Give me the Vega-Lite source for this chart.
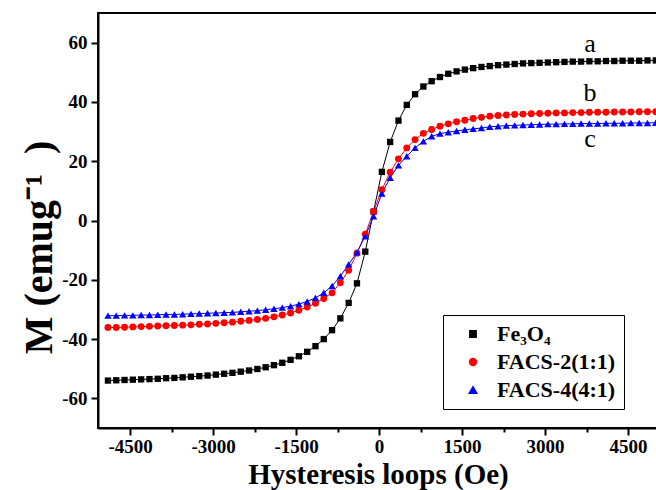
{
  "$schema": "https://vega.github.io/schema/vega-lite/v6.json",
  "width": 560,
  "height": 415,
  "autosize": "none",
  "padding": {"left": 98, "top": 13, "right": 0, "bottom": 62},
  "background": "white",
  "config": {"view": {"stroke": "black", "strokeWidth": 2}, "font": "Liberation Serif"},
  "datasets": {
    "curves": [
      {"s":"Fe₃O₄","H":-4900,"M":-54.0},{"s":"Fe₃O₄","H":-4750,"M":-53.9},{"s":"Fe₃O₄","H":-4600,"M":-53.8},{"s":"Fe₃O₄","H":-4450,"M":-53.7},{"s":"Fe₃O₄","H":-4300,"M":-53.6},{"s":"Fe₃O₄","H":-4150,"M":-53.5},{"s":"Fe₃O₄","H":-4000,"M":-53.4},{"s":"Fe₃O₄","H":-3850,"M":-53.2},{"s":"Fe₃O₄","H":-3700,"M":-53.1},{"s":"Fe₃O₄","H":-3550,"M":-52.9},{"s":"Fe₃O₄","H":-3400,"M":-52.7},{"s":"Fe₃O₄","H":-3250,"M":-52.5},{"s":"Fe₃O₄","H":-3100,"M":-52.3},{"s":"Fe₃O₄","H":-2950,"M":-52.0},{"s":"Fe₃O₄","H":-2800,"M":-51.7},{"s":"Fe₃O₄","H":-2650,"M":-51.4},{"s":"Fe₃O₄","H":-2500,"M":-51.0},{"s":"Fe₃O₄","H":-2350,"M":-50.6},{"s":"Fe₃O₄","H":-2200,"M":-50.1},{"s":"Fe₃O₄","H":-2050,"M":-49.5},{"s":"Fe₃O₄","H":-1900,"M":-48.8},{"s":"Fe₃O₄","H":-1750,"M":-48.0},{"s":"Fe₃O₄","H":-1600,"M":-47.0},{"s":"Fe₃O₄","H":-1450,"M":-45.8},{"s":"Fe₃O₄","H":-1300,"M":-44.3},{"s":"Fe₃O₄","H":-1150,"M":-42.4},{"s":"Fe₃O₄","H":-1000,"M":-40.0},{"s":"Fe₃O₄","H":-850,"M":-37.0},{"s":"Fe₃O₄","H":-700,"M":-33.0},{"s":"Fe₃O₄","H":-550,"M":-27.8},{"s":"Fe₃O₄","H":-400,"M":-21.2},{"s":"Fe₃O₄","H":-250,"M":-10.5},{"s":"Fe₃O₄","H":-100,"M":3.0},{"s":"Fe₃O₄","H":50,"M":16.4},{"s":"Fe₃O₄","H":200,"M":26.5},{"s":"Fe₃O₄","H":350,"M":33.7},{"s":"Fe₃O₄","H":500,"M":39.0},{"s":"Fe₃O₄","H":650,"M":42.6},{"s":"Fe₃O₄","H":800,"M":45.2},{"s":"Fe₃O₄","H":950,"M":47.0},{"s":"Fe₃O₄","H":1100,"M":48.4},{"s":"Fe₃O₄","H":1250,"M":49.5},{"s":"Fe₃O₄","H":1400,"M":50.3},{"s":"Fe₃O₄","H":1550,"M":50.9},{"s":"Fe₃O₄","H":1700,"M":51.4},{"s":"Fe₃O₄","H":1850,"M":51.8},{"s":"Fe₃O₄","H":2000,"M":52.1},{"s":"Fe₃O₄","H":2150,"M":52.4},{"s":"Fe₃O₄","H":2300,"M":52.6},{"s":"Fe₃O₄","H":2450,"M":52.8},{"s":"Fe₃O₄","H":2600,"M":53.0},{"s":"Fe₃O₄","H":2750,"M":53.1},{"s":"Fe₃O₄","H":2900,"M":53.2},{"s":"Fe₃O₄","H":3050,"M":53.3},{"s":"Fe₃O₄","H":3200,"M":53.4},{"s":"Fe₃O₄","H":3350,"M":53.5},{"s":"Fe₃O₄","H":3500,"M":53.6},{"s":"Fe₃O₄","H":3650,"M":53.6},{"s":"Fe₃O₄","H":3800,"M":53.7},{"s":"Fe₃O₄","H":3950,"M":53.7},{"s":"Fe₃O₄","H":4100,"M":53.8},{"s":"Fe₃O₄","H":4250,"M":53.8},{"s":"Fe₃O₄","H":4400,"M":53.9},{"s":"Fe₃O₄","H":4550,"M":53.9},{"s":"Fe₃O₄","H":4700,"M":53.9},{"s":"Fe₃O₄","H":4850,"M":54.0},{"s":"Fe₃O₄","H":5000,"M":54.0},
      {"s":"FACS-2(1:1)","H":-4900,"M":-36.1},{"s":"FACS-2(1:1)","H":-4750,"M":-36.1},{"s":"FACS-2(1:1)","H":-4600,"M":-36.0},{"s":"FACS-2(1:1)","H":-4450,"M":-35.9},{"s":"FACS-2(1:1)","H":-4300,"M":-35.8},{"s":"FACS-2(1:1)","H":-4150,"M":-35.7},{"s":"FACS-2(1:1)","H":-4000,"M":-35.6},{"s":"FACS-2(1:1)","H":-3850,"M":-35.5},{"s":"FACS-2(1:1)","H":-3700,"M":-35.4},{"s":"FACS-2(1:1)","H":-3550,"M":-35.3},{"s":"FACS-2(1:1)","H":-3400,"M":-35.2},{"s":"FACS-2(1:1)","H":-3250,"M":-35.0},{"s":"FACS-2(1:1)","H":-3100,"M":-34.9},{"s":"FACS-2(1:1)","H":-2950,"M":-34.7},{"s":"FACS-2(1:1)","H":-2800,"M":-34.5},{"s":"FACS-2(1:1)","H":-2650,"M":-34.3},{"s":"FACS-2(1:1)","H":-2500,"M":-34.0},{"s":"FACS-2(1:1)","H":-2350,"M":-33.7},{"s":"FACS-2(1:1)","H":-2200,"M":-33.4},{"s":"FACS-2(1:1)","H":-2050,"M":-33.0},{"s":"FACS-2(1:1)","H":-1900,"M":-32.5},{"s":"FACS-2(1:1)","H":-1750,"M":-31.9},{"s":"FACS-2(1:1)","H":-1600,"M":-31.2},{"s":"FACS-2(1:1)","H":-1450,"M":-30.3},{"s":"FACS-2(1:1)","H":-1300,"M":-29.2},{"s":"FACS-2(1:1)","H":-1150,"M":-27.9},{"s":"FACS-2(1:1)","H":-1000,"M":-26.3},{"s":"FACS-2(1:1)","H":-850,"M":-24.4},{"s":"FACS-2(1:1)","H":-700,"M":-21.0},{"s":"FACS-2(1:1)","H":-550,"M":-16.8},{"s":"FACS-2(1:1)","H":-400,"M":-11.0},{"s":"FACS-2(1:1)","H":-250,"M":-4.6},{"s":"FACS-2(1:1)","H":-100,"M":3.0},{"s":"FACS-2(1:1)","H":50,"M":10.4},{"s":"FACS-2(1:1)","H":200,"M":16.3},{"s":"FACS-2(1:1)","H":350,"M":20.8},{"s":"FACS-2(1:1)","H":500,"M":24.5},{"s":"FACS-2(1:1)","H":650,"M":27.3},{"s":"FACS-2(1:1)","H":800,"M":29.4},{"s":"FACS-2(1:1)","H":950,"M":30.7},{"s":"FACS-2(1:1)","H":1100,"M":31.8},{"s":"FACS-2(1:1)","H":1250,"M":32.6},{"s":"FACS-2(1:1)","H":1400,"M":33.3},{"s":"FACS-2(1:1)","H":1550,"M":33.8},{"s":"FACS-2(1:1)","H":1700,"M":34.4},{"s":"FACS-2(1:1)","H":1850,"M":34.8},{"s":"FACS-2(1:1)","H":2000,"M":35.2},{"s":"FACS-2(1:1)","H":2150,"M":35.4},{"s":"FACS-2(1:1)","H":2300,"M":35.6},{"s":"FACS-2(1:1)","H":2450,"M":35.8},{"s":"FACS-2(1:1)","H":2600,"M":35.9},{"s":"FACS-2(1:1)","H":2750,"M":36.0},{"s":"FACS-2(1:1)","H":2900,"M":36.1},{"s":"FACS-2(1:1)","H":3050,"M":36.2},{"s":"FACS-2(1:1)","H":3200,"M":36.3},{"s":"FACS-2(1:1)","H":3350,"M":36.3},{"s":"FACS-2(1:1)","H":3500,"M":36.4},{"s":"FACS-2(1:1)","H":3650,"M":36.4},{"s":"FACS-2(1:1)","H":3800,"M":36.5},{"s":"FACS-2(1:1)","H":3950,"M":36.5},{"s":"FACS-2(1:1)","H":4100,"M":36.5},{"s":"FACS-2(1:1)","H":4250,"M":36.6},{"s":"FACS-2(1:1)","H":4400,"M":36.6},{"s":"FACS-2(1:1)","H":4550,"M":36.6},{"s":"FACS-2(1:1)","H":4700,"M":36.7},{"s":"FACS-2(1:1)","H":4850,"M":36.7},{"s":"FACS-2(1:1)","H":5000,"M":36.7},
      {"s":"FACS-4(4:1)","H":-4900,"M":-32.1},{"s":"FACS-4(4:1)","H":-4750,"M":-32.1},{"s":"FACS-4(4:1)","H":-4600,"M":-32.0},{"s":"FACS-4(4:1)","H":-4450,"M":-32.0},{"s":"FACS-4(4:1)","H":-4300,"M":-31.9},{"s":"FACS-4(4:1)","H":-4150,"M":-31.9},{"s":"FACS-4(4:1)","H":-4000,"M":-31.8},{"s":"FACS-4(4:1)","H":-3850,"M":-31.7},{"s":"FACS-4(4:1)","H":-3700,"M":-31.7},{"s":"FACS-4(4:1)","H":-3550,"M":-31.6},{"s":"FACS-4(4:1)","H":-3400,"M":-31.5},{"s":"FACS-4(4:1)","H":-3250,"M":-31.4},{"s":"FACS-4(4:1)","H":-3100,"M":-31.3},{"s":"FACS-4(4:1)","H":-2950,"M":-31.2},{"s":"FACS-4(4:1)","H":-2800,"M":-31.1},{"s":"FACS-4(4:1)","H":-2650,"M":-31.0},{"s":"FACS-4(4:1)","H":-2500,"M":-30.8},{"s":"FACS-4(4:1)","H":-2350,"M":-30.6},{"s":"FACS-4(4:1)","H":-2200,"M":-30.4},{"s":"FACS-4(4:1)","H":-2050,"M":-30.1},{"s":"FACS-4(4:1)","H":-1900,"M":-29.8},{"s":"FACS-4(4:1)","H":-1750,"M":-29.4},{"s":"FACS-4(4:1)","H":-1600,"M":-28.9},{"s":"FACS-4(4:1)","H":-1450,"M":-28.2},{"s":"FACS-4(4:1)","H":-1300,"M":-27.3},{"s":"FACS-4(4:1)","H":-1150,"M":-26.1},{"s":"FACS-4(4:1)","H":-1000,"M":-24.4},{"s":"FACS-4(4:1)","H":-850,"M":-22.1},{"s":"FACS-4(4:1)","H":-700,"M":-18.8},{"s":"FACS-4(4:1)","H":-550,"M":-14.8},{"s":"FACS-4(4:1)","H":-400,"M":-10.7},{"s":"FACS-4(4:1)","H":-250,"M":-5.3},{"s":"FACS-4(4:1)","H":-100,"M":1.4},{"s":"FACS-4(4:1)","H":50,"M":9.1},{"s":"FACS-4(4:1)","H":200,"M":14.4},{"s":"FACS-4(4:1)","H":350,"M":18.6},{"s":"FACS-4(4:1)","H":500,"M":21.7},{"s":"FACS-4(4:1)","H":650,"M":24.5},{"s":"FACS-4(4:1)","H":800,"M":26.7},{"s":"FACS-4(4:1)","H":950,"M":28.4},{"s":"FACS-4(4:1)","H":1100,"M":29.3},{"s":"FACS-4(4:1)","H":1250,"M":29.8},{"s":"FACS-4(4:1)","H":1400,"M":30.2},{"s":"FACS-4(4:1)","H":1550,"M":30.6},{"s":"FACS-4(4:1)","H":1700,"M":30.9},{"s":"FACS-4(4:1)","H":1850,"M":31.2},{"s":"FACS-4(4:1)","H":2000,"M":31.6},{"s":"FACS-4(4:1)","H":2150,"M":31.8},{"s":"FACS-4(4:1)","H":2300,"M":32.0},{"s":"FACS-4(4:1)","H":2450,"M":32.1},{"s":"FACS-4(4:1)","H":2600,"M":32.2},{"s":"FACS-4(4:1)","H":2750,"M":32.3},{"s":"FACS-4(4:1)","H":2900,"M":32.4},{"s":"FACS-4(4:1)","H":3050,"M":32.5},{"s":"FACS-4(4:1)","H":3200,"M":32.5},{"s":"FACS-4(4:1)","H":3350,"M":32.6},{"s":"FACS-4(4:1)","H":3500,"M":32.6},{"s":"FACS-4(4:1)","H":3650,"M":32.7},{"s":"FACS-4(4:1)","H":3800,"M":32.7},{"s":"FACS-4(4:1)","H":3950,"M":32.7},{"s":"FACS-4(4:1)","H":4100,"M":32.8},{"s":"FACS-4(4:1)","H":4250,"M":32.8},{"s":"FACS-4(4:1)","H":4400,"M":32.8},{"s":"FACS-4(4:1)","H":4550,"M":32.9},{"s":"FACS-4(4:1)","H":4700,"M":32.9},{"s":"FACS-4(4:1)","H":4850,"M":32.9},{"s":"FACS-4(4:1)","H":5000,"M":33.0}
    ],
    "labels": [
      {"t":"a","H":3813,"M":59.7},
      {"t":"b","H":3813,"M":43.1},
      {"t":"c","H":3813,"M":27.4}
    ]
  },
  "layer": [
    {
      "data": {"name": "curves"},
      "mark": {"type": "line", "strokeWidth": 1, "clip": true},
      "encoding": {
        "x": {
          "field": "H", "type": "quantitative",
          "scale": {"domain": [-5080, 5040], "nice": false, "zero": false},
          "axis": {
            "values": [-4500,-3750,-3000,-2250,-1500,-750,0,750,1500,2250,3000,3750,4500],
            "labelExpr": "datum.value % 1500 === 0 ? '' + datum.value : ''",
            "tickSize": {"condition": {"test": "datum.value % 1500 === 0", "value": 7}, "value": 4},
            "tickWidth": 2, "tickColor": "black",
            "domainColor": "black", "domainWidth": 2, "grid": false,
            "labelFont": "Liberation Serif", "labelFontWeight": "bold", "labelFontSize": 19, "labelColor": "black",
            "labelPadding": 2, "labelFlush": false, "labelOverlap": false,
            "title": "Hysteresis loops (Oe)",
            "titleFont": "Liberation Serif", "titleFontSize": 29, "titleFontWeight": "bold", "titleColor": "black",
            "titlePadding": 4
          }
        },
        "y": {
          "field": "M", "type": "quantitative",
          "scale": {"domain": [-70, 70], "nice": false, "zero": false},
          "axis": {
            "values": [-60,-50,-40,-30,-20,-10,0,10,20,30,40,50,60],
            "labelExpr": "datum.value % 20 === 0 ? '' + datum.value : ''",
            "tickSize": {"condition": {"test": "datum.value % 20 === 0", "value": 7}, "value": 4},
            "tickWidth": 2, "tickColor": "black",
            "domainColor": "black", "domainWidth": 2, "grid": false,
            "labelFont": "Liberation Serif", "labelFontWeight": "bold", "labelFontSize": 19, "labelColor": "black",
            "labelPadding": 4, "labelFlush": false, "labelOverlap": false,
            "title": "M\u00a0(emug⁻¹\u00a0\u00a0)",
            "titleFont": "Liberation Serif", "titleFontSize": 40, "titleFontWeight": "bold", "titleColor": "black",
            "titlePadding": 2, "titleY": 234
          }
        },
        "detail": {"field": "s"},
        "color": {
          "field": "s", "type": "nominal",
          "scale": {"domain": ["Fe₃O₄", "FACS-2(1:1)", "FACS-4(4:1)"], "range": ["#000000", "#ff0000", "#0000ff"]},
          "legend": {
            "title": null, "orient": "none", "legendX": 345, "legendY": 302,
            "strokeColor": "black", "fillColor": "white", "padding": 8,
            "labelFont": "Liberation Serif", "labelFontWeight": "bold", "labelFontSize": 22, "labelColor": "black",
            "labelLimit": 0, "symbolSize": 100, "symbolOffset": 11, "labelOffset": 13, "rowPadding": 6
          }
        }
      }
    },
    {
      "data": {"name": "curves"},
      "mark": {"type": "point", "filled": true, "opacity": 1, "clip": true},
      "encoding": {
        "x": {"field": "H", "type": "quantitative"},
        "y": {"field": "M", "type": "quantitative"},
        "color": {"field": "s", "type": "nominal", "legend": null},
        "shape": {
          "field": "s", "type": "nominal",
          "scale": {"domain": ["Fe₃O₄", "FACS-2(1:1)", "FACS-4(4:1)"], "range": ["square", "circle", "triangle-up"]},
          "legend": null
        },
        "size": {
          "field": "s", "type": "nominal",
          "scale": {"domain": ["Fe₃O₄", "FACS-2(1:1)", "FACS-4(4:1)"], "range": [40, 55, 60]},
          "legend": null
        }
      }
    },
    {
      "data": {"name": "labels"},
      "mark": {"type": "text", "font": "Liberation Serif", "fontSize": 26, "fontWeight": "normal", "color": "black", "align": "center", "baseline": "middle"},
      "encoding": {
        "x": {"field": "H", "type": "quantitative"},
        "y": {"field": "M", "type": "quantitative"},
        "text": {"field": "t"}
      }
    }
  ]
}
